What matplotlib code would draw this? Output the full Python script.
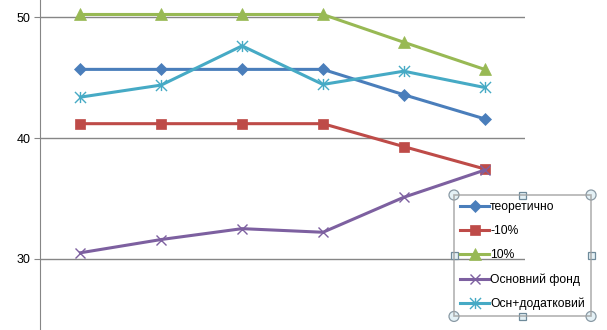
import matplotlib
matplotlib.use("Agg")
import matplotlib.pyplot as plt
from matplotlib.path import Path
from matplotlib.patches import Ellipse, Rectangle

plt.rcParams.update({
    "font.family": ["Liberation Sans", "DejaVu Sans"],
    "font.size": 8,
})

categories = ["1", "2", "3", "4", "5", "6"]
teoretychno = [45.7, 45.7, 45.7, 45.7, 43.6, 41.6]
minus10 = [41.2, 41.2, 41.2, 41.2, 39.3, 37.45]
plus10 = [50.25, 50.25, 50.25, 50.25, 47.95, 45.7]
osnovnyi = [30.5, 31.6, 32.5, 32.2, 35.1, 37.35]
osn_dod = [43.4, 44.4, 47.65, 44.45, 45.55, 44.2]

labels = ["теоретично", "-10%", "10%", "Основний фонд", "Осн+додатковий"]
colors = ["#4A7EBB", "#BE4B48", "#98B954", "#7D60A0", "#46AAC5"]

# Excel-style asterisk marker
star = Path([(0, -1), (0, 1), (-1, -1), (1, 1), (-1, 1), (1, -1)],
            [Path.MOVETO, Path.LINETO, Path.MOVETO, Path.LINETO, Path.MOVETO, Path.LINETO])

fig = plt.figure(figsize=(6.07, 3.30), dpi=100)
ax = fig.add_axes([40 / 607, 0, (525 - 40) / 607, 1])

x = range(len(categories))
series = [teoretychno, minus10, plus10, osnovnyi, osn_dod]
markers = ["D", "s", "^", "x", star]
msizes = [6, 7.5, 8, 7, 8]
for vals, lab, col, mk, ms in zip(series, labels, colors, markers, msizes):
    thin = mk == "x" or mk is star
    ax.plot(x, vals, color=col, lw=2.2, marker=mk, ms=ms, mfc=col, mec=col,
            mew=1.0 if thin else 0.5, label=lab, zorder=3)

ax.set_xlim(-0.5, len(categories) - 0.5)
ax.set_ylim(24.1, 51.45)
ax.set_yticks([30, 40, 50])
ax.set_xticks([])
ax.grid(axis="y", color="#868686", lw=1.0)
ax.set_axisbelow(True)
for s in ("top", "right", "bottom"):
    ax.spines[s].set_visible(False)
ax.spines["left"].set_color("#868686")
ax.tick_params(axis="y", length=4, color="#868686", labelsize=9, pad=3)

leg = fig.legend(loc="upper left", bbox_to_anchor=(454 / 607, 1 - 195 / 330),
                 borderaxespad=0, frameon=True, fancybox=False, handlelength=2.4,
                 labelspacing=1.0, handletextpad=0.1, borderpad=0.5, fontsize=8.7)
leg.get_frame().set_facecolor("none")
leg.get_frame().set_edgecolor("#A0A0A0")
leg.get_frame().set_linewidth(1.2)

# selection handles around the legend box
fig.canvas.draw()
bb = leg.get_frame().get_window_extent().transformed(fig.transFigure.inverted())
x0, y0, x1, y1 = bb.x0, bb.y0, bb.x1, bb.y1
xm, ym = (x0 + x1) / 2, (y0 + y1) / 2
for cx, cy in [(x0, y0), (x0, y1), (x1, y0), (x1, y1)]:
    fig.patches.append(Ellipse((cx, cy), 10 / 607, 10 / 330, transform=fig.transFigure,
                               fc="#E4F1F6", ec="#8A9AA5", lw=0.9, figure=fig))
sw, sh = 7 / 607, 7 / 330
for cx, cy in [(xm, y0), (xm, y1), (x0, ym), (x1, ym)]:
    fig.patches.append(Rectangle((cx - sw / 2, cy - sh / 2), sw, sh,
                                 transform=fig.transFigure, fc="#E4F1F6",
                                 ec="#6E8A9A", lw=0.9, figure=fig))

fig.savefig("out.png", dpi=100)
